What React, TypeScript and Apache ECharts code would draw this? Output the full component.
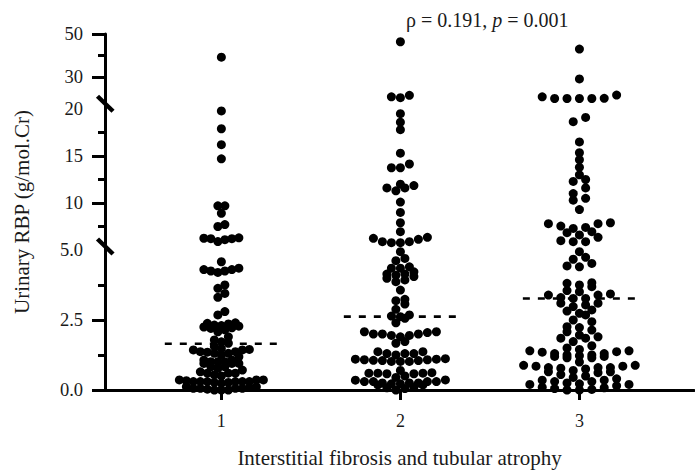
import React, { useEffect, useRef } from "react";
import * as echarts from "echarts";

// ---------------- data ----------------
const groupLabels = [1, 2, 3];

const group1 = [
  39.2, 19.8, 17.9, 16.2, 14.7, 9.7, 9.7, 8.9, 7.7, 7.5, 6.3, 6.25, 6.2, 6.2, 6.1, 5.9,
  4.58, 4.35, 4.3, 4.25, 4.2, 4.25, 4.3,
  3.75, 3.63, 3.45, 3.31,
  2.8, 2.68,
  2.4, 2.38, 2.36, 2.32, 2.3, 2.28, 2.25, 2.22, 2.2, 2.15, 2.08,
  1.9, 1.79, 1.72, 1.67, 1.55,
  1.48, 1.45, 1.43, 1.43, 1.37, 1.37, 1.35, 1.31, 1.31, 1.25,
  1.19, 1.07, 1.07, 1.01, 1.01, 1.01, 0.95, 0.95, 0.95,
  0.83, 0.83, 0.77, 0.71, 0.65, 0.6, 0.6, 0.6, 0.54,
  0.5, 0.36, 0.36, 0.36, 0.33, 0.3, 0.3, 0.3, 0.3, 0.3, 0.3, 0.27, 0.27, 0.24,
  0.12, 0.12, 0.09, 0.06, 0.06, 0.06, 0.06, 0.03, 0.0, 0.0, 0.0,
];

const group2 = [
  46.4, 21.5, 20.8, 20.4, 19.5, 18.6, 17.8, 15.3, 14.15, 13.75, 13.75,
  12.0, 11.85, 11.6, 11.6, 11.3, 10.1, 9.0, 7.9, 6.95, 6.35, 6.24, 6.14, 5.88, 5.88, 5.78, 5.78,
  4.94, 4.7, 4.62, 4.4, 4.35, 4.35, 4.22, 4.14, 4.14, 4.1, 4.05, 3.99, 3.93, 3.87,
  3.57, 3.24, 3.19, 3.07, 2.88, 2.68, 2.64, 2.62, 2.56, 2.4,
  2.08, 2.08, 2.05, 2.0, 2.0, 2.0, 1.95, 1.95, 1.9,
  1.73, 1.67,
  1.37, 1.37, 1.3, 1.3, 1.3, 1.25, 1.12, 1.1,
  1.1, 1.08, 1.08, 1.06, 1.05, 1.05, 1.02, 1.02, 1.02,
  0.7, 0.62, 0.6, 0.6, 0.6, 0.58, 0.58, 0.5, 0.45,
  0.36, 0.35, 0.3, 0.3, 0.3, 0.3, 0.25, 0.25, 0.25, 0.22, 0.22, 0.18, 0.18,
  0.1, 0.08, 0.05, 0.0,
];

const group3 = [
  43.0, 29.1, 21.6, 20.8, 20.1, 20.0, 20.0, 20.0, 20.0,
  19.1, 18.65, 16.5, 15.35, 14.6, 13.8, 13.0, 12.5, 12.3, 11.6, 11.0, 10.5, 10.3, 9.3,
  7.9, 7.8, 7.8, 7.55, 7.4, 7.3, 6.95, 6.84, 6.6, 6.35, 5.99, 5.88, 5.88,
  4.94, 4.74, 4.67, 4.52, 4.43, 4.4,
  3.83, 3.81, 3.75, 3.69, 3.55, 3.51, 3.43, 3.39, 3.39, 3.3, 3.27, 3.27, 3.1, 3.1, 3.04, 2.98,
  2.86, 2.82, 2.74, 2.68,
  2.5, 2.44, 2.26, 2.23, 2.14, 2.08, 1.96, 1.9, 1.85, 1.85, 1.73, 1.58, 1.37,
  1.5, 1.45, 1.4, 1.4, 1.35, 1.3, 1.3, 1.25, 1.25, 1.22, 1.2, 1.2, 1.15, 1.15, 1.0,
  0.88, 0.88, 0.85, 0.85, 0.8, 0.8, 0.8, 0.78, 0.75, 0.7, 0.65, 0.65, 0.62, 0.55, 0.5, 0.45,
  0.4, 0.35, 0.35, 0.3, 0.3, 0.25, 0.22, 0.2, 0.2, 0.15, 0.1, 0.08, 0.05, 0.02, 0.0, 0.0,
];

const groupValues = [group1, group2, group3];
const medians = [1.65, 2.62, 3.27];

// axis ticks / labels per segment (bottom, middle, top)
const majorTicks = [[0, 2.5], [10, 15], [30, 50]];
const minorTicks = [[1.25, 3.75], [7.5, 12.5, 17.5], [40]];
const tickLabels = [[0, 2.5, 5], [10, 15, 20], [30, 50]];
const xTickValues = [1, 2, 3];

const xTitle = "Interstitial fibrosis and tubular atrophy";
const yTitle = "Urinary RBP (g/mol.Cr)";

// ---------------- layout / style ----------------
const FONT = '"Liberation Serif", "Times New Roman", serif';
const TEXT = "#1a1a1a";
const LEFT = 105;
const WIDTH = 589;
const X_MIN = 0.35;
const X_MAX = 3.64;
const PX_PER_X = WIDTH / (X_MAX - X_MIN);
const segments = [
  { min: 0, max: 5, top: 250, height: 140 },
  { min: 5, max: 20, top: 109, height: 141 },
  { min: 20, max: 50, top: 34, height: 64.5 },
];
const gap = { top: 98.5, height: 10.5 };
const DOT = 9;
const ROW_H = 6;
const MAX_W = 112;
const groupSpacing = [7, 9, 12.4];
const MEDIAN_HALF = 0.316;

function segOf(v: number) {
  if (v <= 5) return 0;
  if (v < 20) return 1;
  return 2;
}
function yPx(v: number) {
  const s = segments[segOf(v)];
  return s.top + s.height * (1 - (v - s.min) / (s.max - s.min));
}

function layout(values: number[], spacing: number) {
  const pts = values.map((v) => ({ v, py: yPx(v) })).sort((a, b) => b.py - a.py);
  const rows: { v: number; py: number }[][] = [];
  let cur: { v: number; py: number }[] = [];
  let start: number | null = null;
  for (const p of pts) {
    if (start === null || start - p.py > ROW_H) {
      if (cur.length) rows.push(cur);
      cur = [p];
      start = p.py;
    } else cur.push(p);
  }
  if (cur.length) rows.push(cur);
  const out: { v: number; dx: number }[] = [];
  for (const row of rows) {
    const n = row.length;
    const s = n > 1 ? Math.min(spacing, MAX_W / (n - 1)) : spacing;
    const slots = Array.from({ length: n }, (_, i) => (i - (n - 1) / 2) * s);
    const order = slots
      .map((_, i) => i)
      .sort((a, b) => Math.abs(slots[a]) - Math.abs(slots[b]) || a - b);
    row.forEach((p, k) => out.push({ v: p.v, dx: slots[order[k]] }));
  }
  return out;
}

export default function App() {
  const ref = useRef<HTMLDivElement>(null);
  useEffect(() => {
    if (!ref.current) return;
    const chart = echarts.init(ref.current, null, { renderer: "svg" });

    const segData: number[][][] = [[], [], []];
    groupValues.forEach((vals, gi) => {
      const g = groupLabels[gi];
      layout(vals, groupSpacing[gi]).forEach((p) => {
        segData[segOf(p.v)].push([g + p.dx / PX_PER_X, p.v]);
      });
    });

    const grids = [
      ...segments.map((s) => ({ left: LEFT, width: WIDTH, top: s.top, height: s.height })),
      { left: LEFT, width: WIDTH, top: gap.top, height: gap.height },
    ];

    const xAxes = grids.map((_, i) =>
      i === 0
        ? {
            gridIndex: 0,
            type: "value",
            min: X_MIN,
            max: X_MAX,
            axisLine: { show: true, onZero: false, lineStyle: { color: "#000", width: 3 } },
            axisTick: { show: true, customValues: xTickValues, length: 10, lineStyle: { color: "#000", width: 3 } },
            axisLabel: {
              show: true,
              customValues: xTickValues,
              margin: 22,
              fontFamily: FONT,
              fontSize: 18,
              color: TEXT,
            },
            splitLine: { show: false },
            name: xTitle,
            nameLocation: "middle",
            nameGap: 57,
            nameTextStyle: { fontFamily: FONT, fontSize: 21, color: TEXT },
          }
        : { gridIndex: i, type: "value", min: X_MIN, max: X_MAX, show: false }
    );

    const yAxes: any[] = [];
    segments.forEach((s, i) => {
      yAxes.push({
        gridIndex: i,
        type: "value",
        position: "left",
        min: s.min,
        max: s.max,
        axisLine: { show: true, onZero: false, lineStyle: { color: "#000", width: 3 } },
        axisTick: { show: true, customValues: majorTicks[i], length: 13, lineStyle: { color: "#000", width: 3 } },
        axisLabel: {
          show: true,
          customValues: tickLabels[i],
          margin: 22,
          fontFamily: FONT,
          fontSize: 18.5,
          color: TEXT,
          formatter: (v: number) => (i === 0 ? v.toFixed(1) : String(v)),
        },
        splitLine: { show: false },
      });
      yAxes.push({
        gridIndex: i,
        type: "value",
        position: "left",
        min: s.min,
        max: s.max,
        axisLine: { show: false, onZero: false },
        axisTick: { show: true, customValues: minorTicks[i], length: 7, lineStyle: { color: "#000", width: 3 } },
        axisLabel: { show: false },
        splitLine: { show: false },
      });
    });
    yAxes.push({
      gridIndex: 3,
      type: "value",
      position: "left",
      min: 0,
      max: 1,
      axisLine: { show: true, onZero: false, lineStyle: { color: "#000", width: 3 } },
      axisTick: { show: false },
      axisLabel: { show: false },
      splitLine: { show: false },
    });

    const series: any[] = [];
    medians.forEach((m, gi) => {
      const g = groupLabels[gi];
      series.push({
        type: "line",
        xAxisIndex: 0,
        yAxisIndex: 0,
        data: [
          [g - MEDIAN_HALF, m],
          [g + MEDIAN_HALF, m],
        ],
        symbol: "none",
        z: 1,
        lineStyle: { color: "#000", width: 2.6, type: [7, 8] },
      });
    });
    segData.forEach((d, si) => {
      series.push({
        type: "scatter",
        xAxisIndex: si,
        yAxisIndex: si * 2,
        data: d,
        symbol: "circle",
        symbolSize: DOT,
        clip: false,
        z: 3,
        itemStyle: { color: "#000", opacity: 1 },
      });
    });

    const breakY1 = (gap.top + segments[1].top) / 2;
    const breakY2 = segments[0].top - 3.5;
    const slash = (cy: number) => ({
      type: "line",
      z: 100,
      shape: { x1: LEFT - 7.5, y1: cy - 7.5, x2: LEFT + 8, y2: cy + 7.5 },
      style: { stroke: "#000", lineWidth: 4.5 },
    });

    chart.setOption({
      animation: false,
      textStyle: { fontFamily: FONT },
      grid: grids,
      xAxis: xAxes,
      yAxis: yAxes,
      series,
      graphic: [
        slash(breakY1),
        slash(breakY2),
        {
          type: "text",
          x: 22,
          y: 212,
          rotation: Math.PI / 2,
          style: {
            text: yTitle,
            fontFamily: FONT,
            fontSize: 21,
            fill: TEXT,
            align: "center",
            verticalAlign: "middle",
          },
        },
        {
          type: "text",
          x: 406,
          y: 20,
          style: {
            text: "{n|ρ = 0.191, }{i|p}{n| = 0.001}",
            verticalAlign: "middle",
            align: "left",
            fontFamily: FONT,
            fontSize: 20,
            fill: TEXT,
            rich: {
              n: { fontFamily: FONT, fontSize: 20, fill: TEXT },
              i: { fontFamily: FONT, fontSize: 20, fontStyle: "italic", fill: TEXT },
            },
          },
        },
      ],
    });
    return () => chart.dispose();
  }, []);
  return (
    <div
      ref={ref}
      style={{ position: "absolute", left: 0, top: 0, width: 695, height: 474, background: "#fff" }}
    />
  );
}
